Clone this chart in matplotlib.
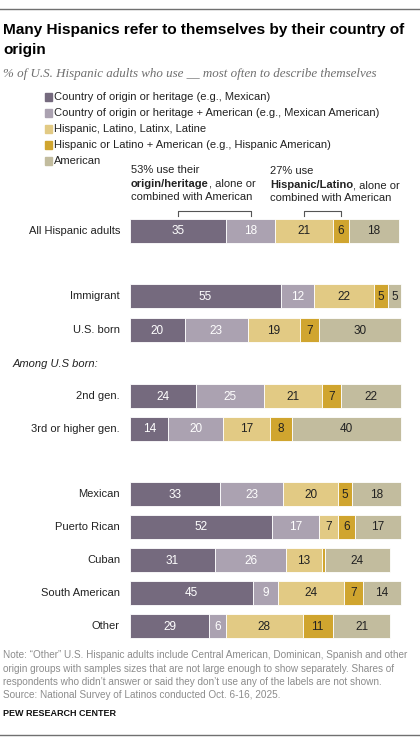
import matplotlib
matplotlib.use('Agg')
import matplotlib.pyplot as plt
from matplotlib.patches import Rectangle
from matplotlib.lines import Line2D

W, H = 420, 745

categories = ['All Hispanic adults', 'Immigrant', 'U.S. born', '2nd gen.',
              '3rd or higher gen.', 'Mexican', 'Puerto Rican', 'Cuban',
              'South American', 'Other']
origin = [35, 55, 20, 24, 14, 33, 52, 31, 45, 29]
origin_american = [18, 12, 23, 25, 20, 23, 17, 26, 9, 6]
hispanic = [21, 22, 19, 21, 17, 20, 7, 13, 24, 28]
hispanic_american = [6, 5, 7, 7, 8, 5, 6, 1, 7, 11]
american = [18, 5, 30, 22, 40, 18, 17, 24, 14, 21]

series_names = ['Country of origin or heritage (e.g., Mexican)',
                'Country of origin or heritage + American (e.g., Mexican American)',
                'Hispanic, Latino, Latinx, Latine',
                'Hispanic or Latino + American (e.g., Hispanic American)',
                'American']

# layout (pixel rows of bar centres)
row_y = [231, 296, 330, 396, 429, 494, 527, 560, 593, 626]
colors = ['#756a7e', '#aba2b1', '#e2ca84', '#d0a52f', '#c2bc9e']
text_colors = ['white', 'white', '#222222', '#222222', '#222222']
bar_h = 24
x0_px, x100_px = 130, 404

fig = plt.figure(figsize=(W / 100, H / 100), dpi=100)
ax = fig.add_axes([x0_px / W, 0, (x100_px - x0_px) / W, 1])
ax.set_xlim(0, 100)
ax.set_ylim(H, 0)
ax.axis('off')

FONT = 'Liberation Sans'
renderer = fig.canvas.get_renderer()


def fx(x):
    return x / W


def fy(y):
    return 1 - y / H


series = [origin, origin_american, hispanic, hispanic_american, american]
left = [0] * len(categories)
for vals, c, tc in zip(series, colors, text_colors):
    ax.barh(row_y, vals, left=left, height=bar_h, color=c, edgecolor='white',
            linewidth=0.6)
    for y, l, v in zip(row_y, left, vals):
        if v >= 3:
            ax.text(l + v / 2, y + 0.5, str(v), ha='center', va='center',
                    fontsize=8.5, color=tc, family=FONT)
    left = [l + v for l, v in zip(left, vals)]

# row labels
for cat, y in zip(categories, row_y):
    fig.text(fx(120), fy(y), cat, ha='right', va='center', fontsize=8,
             family=FONT, color='#222222')
fig.text(fx(13), fy(364), 'Among U.S born:', ha='left', va='center',
         fontsize=8, family=FONT, style='italic', color='#222222')

# title and subtitle
fig.add_artist(Line2D([0, 1], [fy(9), fy(9)], color='#707070', lw=1))
fig.text(fx(3), fy(30), 'Many Hispanics refer to themselves by their country of',
         ha='left', va='center', fontsize=11.1, weight='bold', family=FONT)
fig.text(fx(3), fy(50), 'origin', ha='left', va='center', fontsize=11.1,
         weight='bold', family=FONT)
fig.text(fx(3), fy(74), '% of U.S. Hispanic adults who use __ most often to describe themselves',
         ha='left', va='center', fontsize=9.4, style='italic',
         family='Liberation Serif', color='#6e6e6e')

# legend
for i, (name, c) in enumerate(zip(series_names, colors)):
    y = 97 + i * 16
    fig.add_artist(Rectangle((fx(45), fy(y + 3.5)), 7 / W, 7 / H, color=c))
    fig.text(fx(54), fy(y), name, ha='left', va='center', fontsize=8,
             family=FONT, color='#222222')


def mixed(x, y, bold, rest):
    t = fig.text(fx(x), fy(y), bold, ha='left', va='center', fontsize=8,
                 family=FONT, weight='bold', color='#222222')
    bb = t.get_window_extent(renderer)
    fig.text(bb.x1 / W, fy(y), rest, ha='left', va='center', fontsize=8,
             family=FONT, color='#222222')


# annotations with brackets spanning segment midpoints
a = origin[0] / 2
b = origin[0] + origin_american[0] / 2
c_ = origin[0] + origin_american[0] + hispanic[0] / 2
d = origin[0] + origin_american[0] + hispanic[0] + hispanic_american[0] / 2
for xa, xb in [(a, b), (c_, d)]:
    ax.plot([xa, xa, xb, xb], [216, 210.5, 210.5, 216], color='#555555', lw=0.8)

fig.text(fx(131), fy(170), '53% use their', ha='left', va='center',
         fontsize=8, family=FONT, color='#222222')
mixed(131, 184, 'origin/heritage', ', alone or')
fig.text(fx(131), fy(197), 'combined with American', ha='left', va='center',
         fontsize=8, family=FONT, color='#222222')
fig.text(fx(270), fy(171), '27% use', ha='left', va='center',
         fontsize=8, family=FONT, color='#222222')
mixed(270, 185, 'Hispanic/Latino', ', alone or')
fig.text(fx(270), fy(198), 'combined with American', ha='left', va='center',
         fontsize=8, family=FONT, color='#222222')

# notes
notes = ['Note: \u201cOther\u201d U.S. Hispanic adults include Central American, Dominican, Spanish and other',
         'origin groups with samples sizes that are not large enough to show separately. Shares of',
         'respondents who didn\u2019t answer or said they don\u2019t use any of the labels are not shown.',
         'Source: National Survey of Latinos conducted Oct. 6-16, 2025.']
for i, line in enumerate(notes):
    fig.text(fx(3), fy(655 + i * 13.5), line, ha='left', va='center',
             fontsize=7.2, family=FONT, color='#8c8c8c')
fig.text(fx(3), fy(713), 'PEW RESEARCH CENTER', ha='left', va='center',
         fontsize=6.5, weight='bold', family=FONT, color='#111111')
fig.add_artist(Line2D([0, 1], [fy(735), fy(735)], color='#707070', lw=1))

fig.savefig('out.png', dpi=100)
